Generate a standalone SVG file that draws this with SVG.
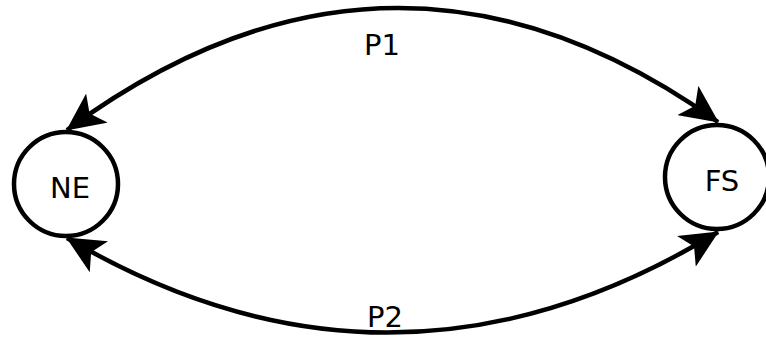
<svg xmlns="http://www.w3.org/2000/svg" width="766" height="337" viewBox="0 0 766 337">
<style>
.node{fill:#fff;stroke:#000;stroke-width:4.5}
.lbl{font-family:"DejaVu Sans",sans-serif;font-size:29px;fill:#000;text-anchor:middle}
.edge{fill:none;stroke:#000;stroke-width:4.5}
</style>
<defs>
<marker id="ah" markerUnits="userSpaceOnUse" viewBox="0 0 38 36" refX="37" refY="18" markerWidth="38" markerHeight="36" orient="auto-start-reverse">
<path d="M0,0 L38,18 L0,36 L9,18 Z" fill="#000"/>
</marker>
</defs>
<g id="connectors">
<path class="edge" d="M67,130 Q393,-110 718,122" marker-start="url(#ah)" marker-end="url(#ah)"/>
<path class="edge" d="M67,238 Q393,430 718,232" marker-start="url(#ah)" marker-end="url(#ah)"/>
<text class="lbl" x="382" y="55">P1</text>
<text class="lbl" x="385" y="327">P2</text>
</g>
<g id="NE">
<circle class="node" cx="66" cy="184" r="52"/>
<text class="lbl" x="70" y="198">NE</text>
</g>
<g id="FS">
<circle class="node" cx="717" cy="177" r="52"/>
<text class="lbl" x="722" y="191">FS</text>
</g>
</svg>
